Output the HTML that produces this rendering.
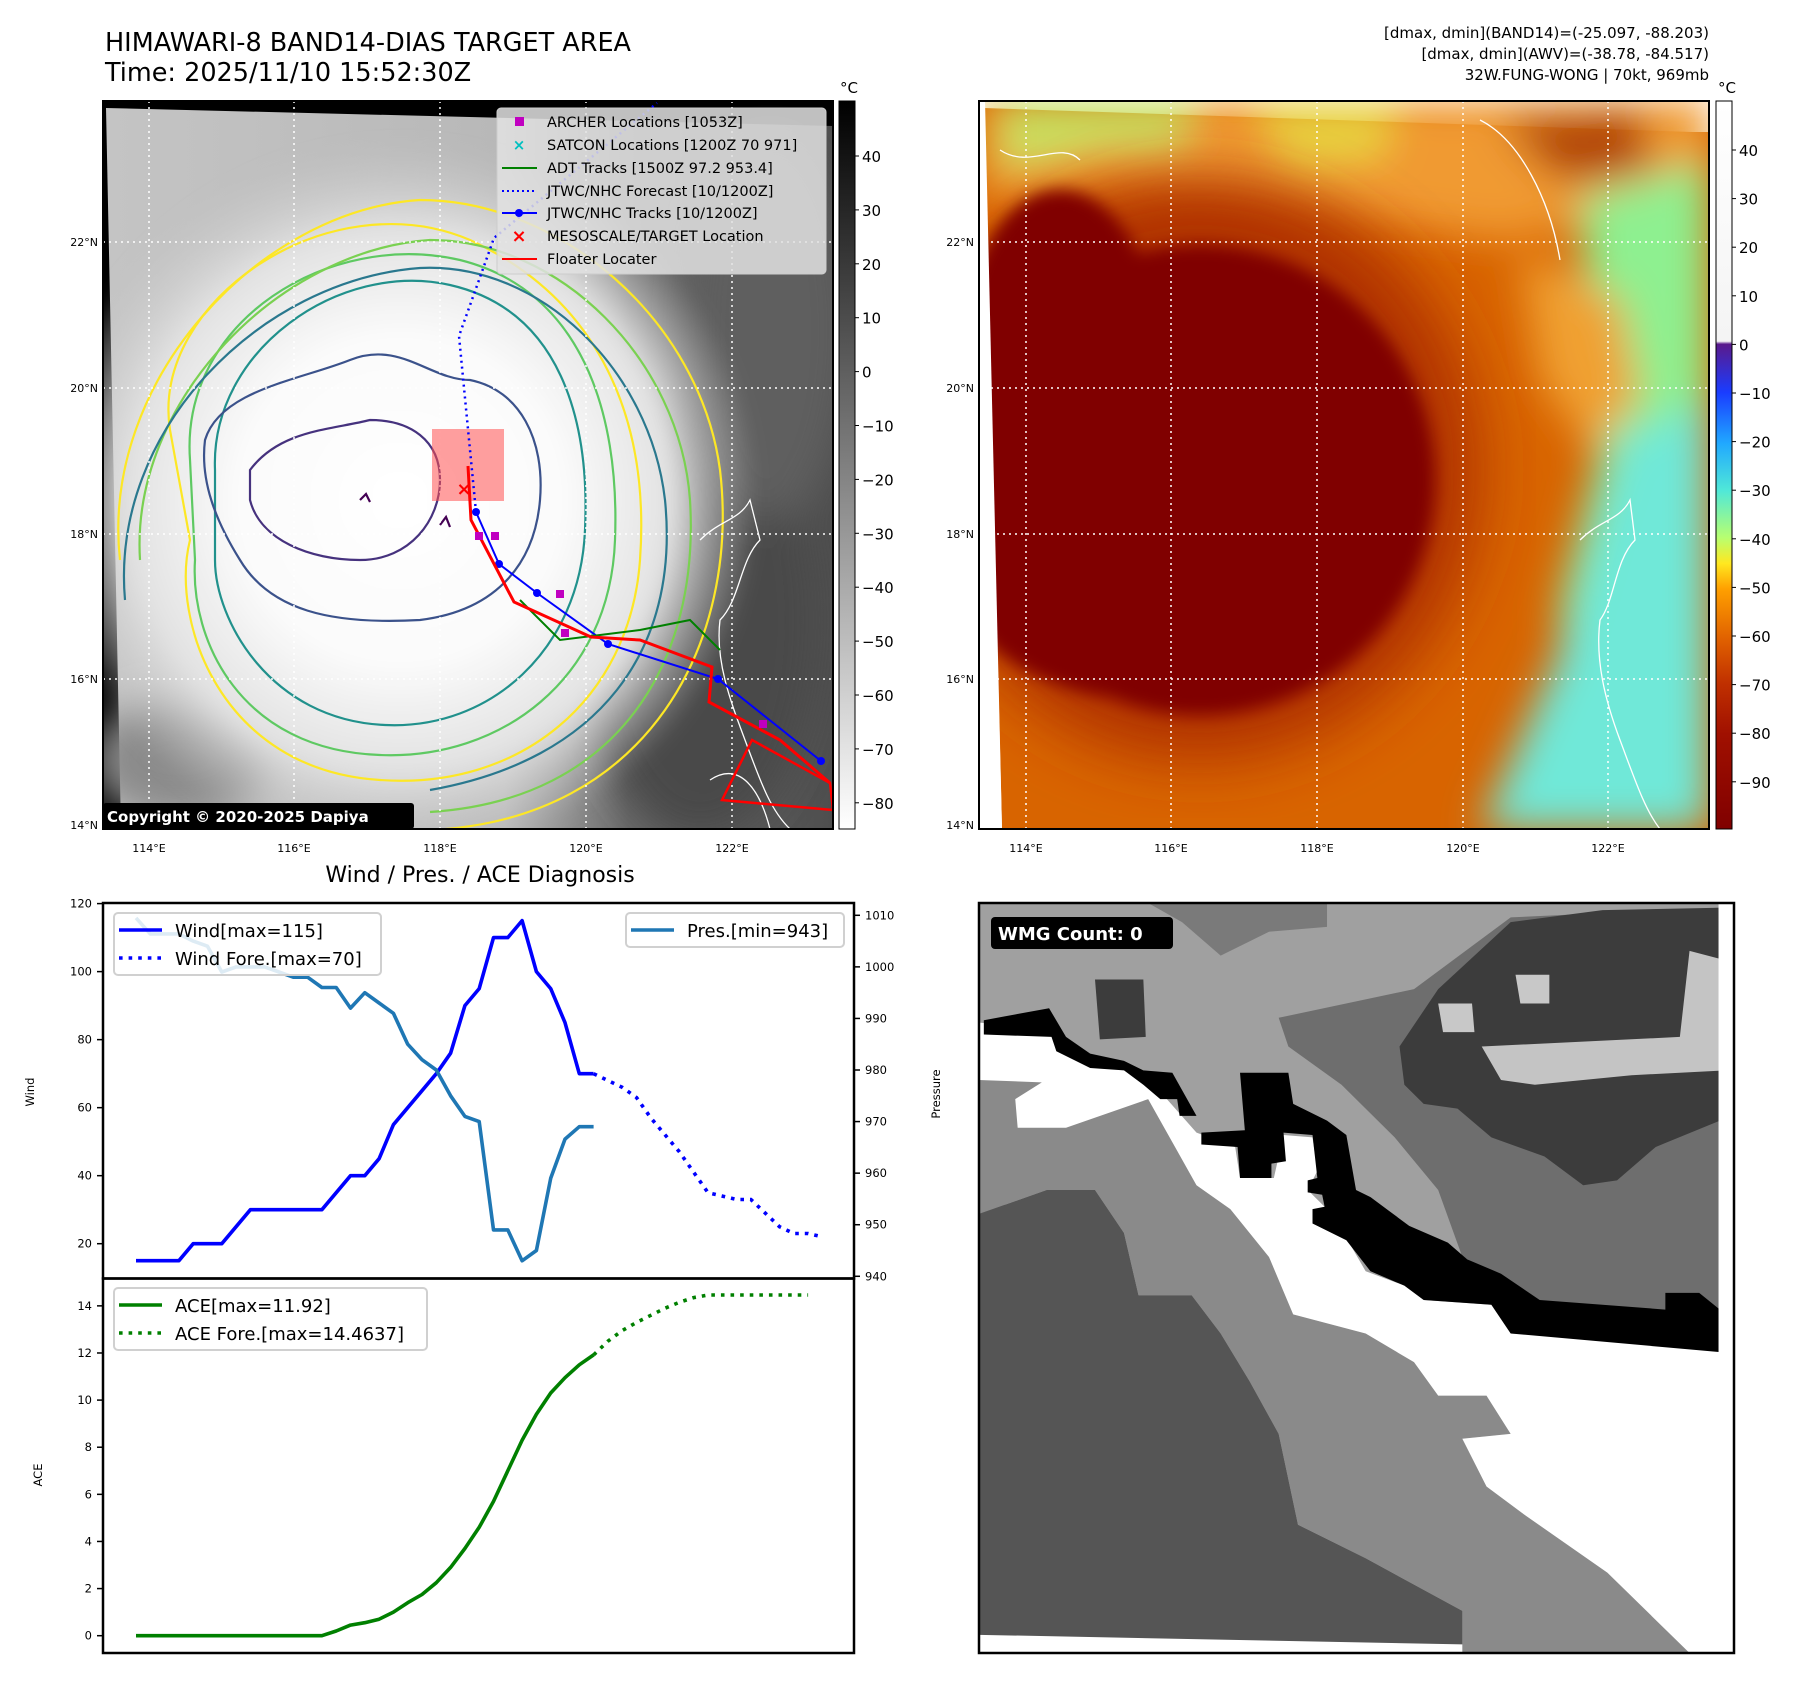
<!DOCTYPE html>
<html><head><meta charset="utf-8"><style>
html,body{margin:0;padding:0;background:#fff;}
svg{display:block;font-family:"DejaVu Sans","Liberation Sans",sans-serif;}
</style></head><body>
<svg id="fig" width="1797" height="1690" viewBox="0 0 1797 1690">
<defs>
  <filter id="blur8"><feGaussianBlur stdDeviation="8"/></filter>
  <filter id="blur20"><feGaussianBlur stdDeviation="20"/></filter>
  <filter id="blur35"><feGaussianBlur stdDeviation="30"/></filter>
  <clipPath id="clipL"><rect x="103" y="101" width="730" height="728"/></clipPath>
  <clipPath id="clipR"><rect x="979" y="101" width="730" height="728"/></clipPath>
  <linearGradient id="gBase" x1="103" y1="0" x2="833" y2="0" gradientUnits="userSpaceOnUse">
    <stop offset="0" stop-color="#c4c4c4"/><stop offset="0.55" stop-color="#b8b8b8"/>
    <stop offset="0.72" stop-color="#6a6a6a"/><stop offset="1" stop-color="#4e4e4e"/>
  </linearGradient>
  <radialGradient id="gWhite" cx="400" cy="500" r="360" gradientUnits="userSpaceOnUse">
    <stop offset="0" stop-color="#ffffff"/><stop offset="0.45" stop-color="#fbfbfb"/>
    <stop offset="0.75" stop-color="#e2e2e2"/><stop offset="1" stop-color="#c8c8c8" stop-opacity="0"/>
  </radialGradient>
  <linearGradient id="cbL" x1="0" y1="0" x2="0" y2="1">
    <stop offset="0" stop-color="#000"/><stop offset="1" stop-color="#fff"/>
  </linearGradient>
  <linearGradient id="cbR" x1="0" y1="0" x2="0" y2="1">
    <stop offset="0" stop-color="#ffffff"/><stop offset="0.33" stop-color="#f4f4f4"/>
    <stop offset="0.334" stop-color="#5a1a8c"/><stop offset="0.40" stop-color="#1a3cff"/>
    <stop offset="0.47" stop-color="#20a8ff"/><stop offset="0.535" stop-color="#50e8d8"/>
    <stop offset="0.60" stop-color="#b8ff70"/><stop offset="0.635" stop-color="#ffe820"/>
    <stop offset="0.67" stop-color="#ffa000"/><stop offset="0.74" stop-color="#e06000"/>
    <stop offset="0.80" stop-color="#c03000"/><stop offset="0.87" stop-color="#a01000"/>
    <stop offset="1" stop-color="#800000"/>
  </linearGradient>
</defs>

<!-- ============ TITLES ============ -->
<text x="105" y="51" font-size="25.5">HIMAWARI-8 BAND14-DIAS TARGET AREA</text>
<text x="105" y="81" font-size="25.5">Time: 2025/11/10 15:52:30Z</text>
<g font-size="15" text-anchor="end">
  <text x="1709" y="38">[dmax, dmin](BAND14)=(-25.097, -88.203)</text>
  <text x="1709" y="59">[dmax, dmin](AWV)=(-38.78, -84.517)</text>
  <text x="1709" y="80">32W.FUNG-WONG | 70kt, 969mb</text>
</g>

<!-- ============ LEFT MAP ============ -->
<g>
  <rect x="103" y="101" width="730" height="728" fill="#000"/>
  <g clip-path="url(#clipL)">
    <polygon points="106,108 833,126 833,829 121,829" fill="url(#gBase)"/>
    <g filter="url(#blur20)">
      <ellipse cx="700" cy="620" rx="120" ry="220" fill="#4a4a4a"/>
      <ellipse cx="770" cy="330" rx="80" ry="190" fill="#5e5e5e"/>
      <ellipse cx="180" cy="760" rx="90" ry="60" fill="#8a8a8a"/>
    </g>
    <ellipse cx="400" cy="480" rx="360" ry="400" fill="url(#gWhite)" filter="url(#blur8)"/>
    <g fill="none" stroke-width="2.2">
      <path d="M170,430 C150,300 330,180 470,240 C600,300 650,420 640,560 C630,700 520,790 380,780 C220,770 170,620 190,540 Z" stroke="#fde725"/>
      <path d="M120,560 C100,380 260,210 420,200 C560,200 700,320 720,470 C740,640 650,820 430,830" stroke="#fde725"/>
      <path d="M190,460 C180,320 330,230 460,260 C580,290 620,410 615,540 C610,680 500,760 380,755 C240,750 190,640 195,560 Z" stroke="#5ec962"/>
      <path d="M140,560 C130,400 280,250 430,240 C560,240 680,360 690,500 C700,660 620,800 430,812" stroke="#7ad151"/>
      <path d="M215,470 C210,350 340,260 450,285 C560,310 590,420 585,530 C580,650 490,730 385,725 C270,720 215,620 215,560 Z" stroke="#21918c"/>
      <path d="M125,600 C110,430 260,280 420,268 C540,262 650,370 665,500 C680,650 600,760 430,790" stroke="#2a788e"/>
      <path d="M205,440 C220,390 300,380 350,360 C400,340 430,380 470,380 C520,390 545,440 540,500 C535,560 500,610 420,620 C330,625 270,610 240,560 C215,520 200,480 205,440 Z" stroke="#3b528b"/>
      <path d="M250,470 C280,430 330,430 370,420 C410,420 440,440 440,480 C440,520 410,560 360,560 C310,560 260,540 250,500 Z" stroke="#46327e"/>
      <path d="M360,500 l6,-6 l4,8 M440,525 l6,-8 l4,10" stroke="#440154"/>
    </g>
    <g stroke="#fff" stroke-width="1.5" stroke-dasharray="2,4">
      <line x1="149" y1="101" x2="149" y2="829"/><line x1="294" y1="101" x2="294" y2="829"/>
      <line x1="440" y1="101" x2="440" y2="829"/><line x1="586" y1="101" x2="586" y2="829"/>
      <line x1="732" y1="101" x2="732" y2="829"/>
      <line x1="103" y1="242" x2="833" y2="242"/><line x1="103" y1="388" x2="833" y2="388"/>
      <line x1="103" y1="534" x2="833" y2="534"/><line x1="103" y1="679" x2="833" y2="679"/>
    </g>
    <g fill="none" stroke="#fff" stroke-width="1.3">
      <path d="M700,540 C720,520 740,520 750,500 L760,540 C740,560 740,600 720,620 C715,660 730,700 745,740 C760,780 770,810 790,829"/>
      <path d="M710,780 C740,760 760,790 770,829"/>
    </g>
    <rect x="432" y="429" width="72" height="72" fill="#ff5050" opacity="0.55"/>
    <polyline points="476,512 459,336 494,238 657,103" fill="none" stroke="#0000ff" stroke-width="2.5" stroke-dasharray="2,4"/>
    <polyline points="476,512 499,564 537,593 608,644 718,679 821,761" fill="none" stroke="#0000ff" stroke-width="2"/>
    <g fill="#0000ff"><circle cx="476" cy="512" r="4"/><circle cx="499" cy="564" r="4"/><circle cx="537" cy="593" r="4"/><circle cx="608" cy="644" r="4"/><circle cx="718" cy="679" r="4"/><circle cx="821" cy="761" r="4"/></g>
    <polyline points="520,600 560,640 600,635 640,630 690,620 720,650" fill="none" stroke="#008000" stroke-width="2"/>
    <polyline points="468,466 471,520 514,602 591,637 640,640 712,667 709,702 780,740 830,783" fill="none" stroke="#ff0000" stroke-width="3"/>
    <polygon points="752,740 830,783 833,810 722,800" fill="none" stroke="#ff0000" stroke-width="2.5"/>
    <g fill="#c000c0"><rect x="475" y="532" width="8" height="8"/><rect x="491" y="532" width="8" height="8"/><rect x="556" y="590" width="8" height="8"/><rect x="561" y="629" width="8" height="8"/><rect x="759" y="720" width="8" height="8"/></g>
    <text x="464" y="495" font-size="18" fill="#ff0000" font-weight="bold" text-anchor="middle">×</text>
  </g>
  <rect x="103" y="101" width="730" height="728" fill="none" stroke="#000" stroke-width="2"/>
  <g>
    <rect x="497" y="108" width="329" height="166" rx="4" fill="#e2e2e2" fill-opacity="0.85" stroke="#ccc"/>
    <g font-size="14.5" fill="#000">
      <rect x="515" y="117" width="9" height="9" fill="#c000c0"/><text x="547" y="127">ARCHER Locations [1053Z]</text>
      <text x="519" y="150" fill="#00c0c0" font-size="15" text-anchor="middle" font-weight="bold">×</text><text x="547" y="150">SATCON Locations [1200Z 70 971]</text>
      <line x1="502" y1="168" x2="537" y2="168" stroke="#008000" stroke-width="2"/><text x="547" y="173">ADT Tracks [1500Z 97.2 953.4]</text>
      <line x1="502" y1="191" x2="537" y2="191" stroke="#0000ff" stroke-width="2" stroke-dasharray="2,3"/><text x="547" y="196">JTWC/NHC Forecast [10/1200Z]</text>
      <line x1="502" y1="213" x2="537" y2="213" stroke="#0000ff" stroke-width="2"/><circle cx="519" cy="213" r="4" fill="#0000ff"/><text x="547" y="218">JTWC/NHC Tracks [10/1200Z]</text>
      <text x="519" y="242" fill="#ff0000" font-size="18" text-anchor="middle" font-weight="bold">×</text><text x="547" y="241">MESOSCALE/TARGET Location</text>
      <line x1="502" y1="259" x2="537" y2="259" stroke="#ff0000" stroke-width="2"/><text x="547" y="264">Floater Locater</text>
    </g>
  </g>
  <rect x="103" y="803" width="311" height="26" rx="3" fill="#000"/>
  <text x="107" y="822" font-size="15" font-weight="bold" fill="#fff">Copyright © 2020-2025 Dapiya</text>
</g>
<g font-size="11">
  <g text-anchor="end"><text x="98" y="246">22°N</text><text x="98" y="392">20°N</text><text x="98" y="538">18°N</text><text x="98" y="683">16°N</text><text x="98" y="829">14°N</text></g>
  <g text-anchor="middle"><text x="149" y="852">114°E</text><text x="294" y="852">116°E</text><text x="440" y="852">118°E</text><text x="586" y="852">120°E</text><text x="732" y="852">122°E</text></g>
</g>
<g>
  <rect x="839" y="101" width="16" height="728" fill="url(#cbL)" stroke="#000" stroke-width="1"/>
  <text x="849" y="93" font-size="15" text-anchor="middle">°C</text>
  <g font-size="15" id="cbLticks"></g>
</g>

<!-- ============ RIGHT MAP ============ -->
<g>
  <rect x="979" y="101" width="730" height="728" fill="#fff"/>
  <g clip-path="url(#clipR)">
    <polygon points="984,108 1692,132 1709,132 1709,829 1002,829" fill="#d86400"/>
    <g filter="url(#blur20)">
      <polygon points="980,100 1709,100 1709,200 1500,240 1300,210 1100,190 980,200" fill="#f09a30"/>
      <polygon points="1000,100 1200,100 1180,150 1100,150 1000,170" fill="#c8e060"/>
      <polygon points="1250,100 1400,100 1380,160 1290,170" fill="#e8d040"/>
      <polygon points="1500,120 1640,110 1650,170 1560,180" fill="#b04000"/>
      <polygon points="1580,200 1709,160 1709,830 1560,830 1560,600 1600,450" fill="#8ef090"/>
      <polygon points="1620,440 1709,400 1709,830 1480,830 1560,650" fill="#70e8d8"/>
      <polygon points="1520,250 1620,300 1640,400 1590,450 1540,380" fill="#f0a030"/>
    </g>
    <g filter="url(#blur35)">
      <ellipse cx="1200" cy="470" rx="280" ry="290" fill="#b03000"/>
    </g>
    <g filter="url(#blur8)">
      <ellipse cx="1200" cy="480" rx="235" ry="235" fill="#800000"/>
      <ellipse cx="1060" cy="360" rx="100" ry="170" fill="#800000"/>
      <ellipse cx="1150" cy="560" rx="200" ry="140" fill="#800000"/>
    </g>
    <polygon points="979,100 985,100 1002,829 979,829" fill="#fff"/>
    <g stroke="#fff" stroke-width="1.5" stroke-dasharray="2,4">
      <line x1="1026" y1="101" x2="1026" y2="829"/><line x1="1171" y1="101" x2="1171" y2="829"/>
      <line x1="1317" y1="101" x2="1317" y2="829"/><line x1="1463" y1="101" x2="1463" y2="829"/>
      <line x1="1608" y1="101" x2="1608" y2="829"/>
      <line x1="979" y1="242" x2="1709" y2="242"/><line x1="979" y1="388" x2="1709" y2="388"/>
      <line x1="979" y1="534" x2="1709" y2="534"/><line x1="979" y1="679" x2="1709" y2="679"/>
    </g>
    <g fill="none" stroke="#fff" stroke-width="1.3">
      <path d="M1580,540 C1600,520 1620,520 1630,500 L1635,540 C1615,560 1615,600 1600,620 C1595,660 1605,700 1620,740 C1635,780 1645,810 1660,829"/>
      <path d="M1000,150 C1030,170 1060,140 1080,160 M1480,120 C1520,140 1550,200 1560,260"/>
    </g>
  </g>
  <rect x="979" y="101" width="730" height="728" fill="none" stroke="#000" stroke-width="2"/>
</g>
<g font-size="11">
  <g text-anchor="end"><text x="974" y="246">22°N</text><text x="974" y="392">20°N</text><text x="974" y="538">18°N</text><text x="974" y="683">16°N</text><text x="974" y="829">14°N</text></g>
  <g text-anchor="middle"><text x="1026" y="852">114°E</text><text x="1171" y="852">116°E</text><text x="1317" y="852">118°E</text><text x="1463" y="852">120°E</text><text x="1608" y="852">122°E</text></g>
</g>
<g>
  <rect x="1716" y="101" width="16" height="728" fill="url(#cbR)" stroke="#000" stroke-width="1"/>
  <text x="1727" y="93" font-size="15" text-anchor="middle">°C</text>
  <g font-size="15" id="cbRticks"></g>
</g>

<!-- ============ WMG PANEL ============ -->
<g>
  <svg x="979" y="903" width="755" height="750" viewBox="0 0 1562 1568" preserveAspectRatio="none">
    <rect x="0" y="0" width="1562" height="1568" fill="#a0a0a0"/>
    <polygon points="620,240 900,180 1100,30 1530,10 1545,860 1160,840 1080,780 1000,740 950,600 860,490 750,380 640,300" fill="#6e6e6e"/>
    <polygon points="350,0 720,0 720,50 600,60 500,110 420,40" fill="#7a7a7a"/>
    <polygon points="870,300 950,180 1100,40 1290,15 1530,10 1545,450 1400,510 1320,580 1250,590 1170,530 1060,490 990,430 920,420 880,380" fill="#3c3c3c"/>
    <polygon points="1040,300 1450,280 1470,100 1545,120 1545,350 1350,360 1150,380 1080,370" fill="#c4c4c4"/>
    <polygon points="950,210 1020,210 1025,270 960,270" fill="#c8c8c8"/>
    <polygon points="1110,150 1180,150 1180,210 1120,210" fill="#c8c8c8"/>
    <polygon points="240,160 340,160 345,280 250,285" fill="#3c3c3c"/>
    <polygon points="0,470 50,470 55,700 0,700" fill="#555"/>
    <polygon points="0,650 140,600 240,600 300,690 330,820 440,820 500,900 560,1000 620,1110 660,1300 800,1370 1000,1480 1000,1568 0,1568" fill="#555"/>
    <polygon points="0,340 130,340 350,410 450,590 520,640 600,740 650,860 800,900 900,960 950,1030 1050,1030 1100,1110 1000,1120 1050,1220 1130,1280 1300,1400 1470,1568 1000,1568 1000,1480 800,1370 660,1300 620,1110 560,1000 500,900 440,820 330,820 300,690 240,600 140,600 0,650" fill="#8a8a8a"/>
    <polygon points="0,250 150,262 230,335 340,350 380,400 450,480 530,510 540,575 610,575 630,485 690,490 700,560 680,600 720,640 690,670 760,700 800,770 880,800 920,830 1060,840 1100,900 1545,915 1545,1568 1470,1568 1300,1400 1130,1280 1050,1220 1000,1120 1100,1110 1050,1030 950,1030 900,960 800,900 650,860 600,740 520,640 450,590 350,410 180,470 80,470 75,410 130,375 0,370" fill="#fff"/>
    <polygon points="10,245 145,220 180,280 230,315 300,330 340,350 400,355 450,445 415,445 410,410 375,410 340,380 300,350 230,345 160,310 150,280 10,275" fill="#000"/>
    <polygon points="540,355 640,355 650,420 720,455 760,485 780,600 810,615 850,645 890,675 970,710 1010,745 1080,775 1160,830 1420,850 1420,815 1490,815 1545,860 1545,940 1100,900 1060,840 920,830 880,800 810,770 760,705 690,670 690,640 715,635 710,610 680,605 680,580 700,575 690,485 630,480 635,540 605,545 605,575 540,575 535,510 460,505 460,480 550,475" fill="#000"/>
    <polygon points="0,1530 1000,1550 1000,1568 0,1568" fill="#fff"/>
    <rect x="1530" y="0" width="32" height="1568" fill="#fff"/>
  </svg>
  <rect x="979" y="903" width="755" height="750" fill="none" stroke="#000" stroke-width="2.5"/>
  <rect x="991" y="917" width="182" height="32" rx="4" fill="#000"/>
  <text x="998" y="940" font-size="18" font-weight="bold" fill="#fff">WMG Count: 0</text>
</g>

<!-- ============ DIAGNOSIS CHART ============ -->
<text x="480" y="882" font-size="22" text-anchor="middle">Wind / Pres. / ACE Diagnosis</text>
<g id="diag"></g>

<script>
// ---- data ----
const windObs = [15,15,15,15,20,20,20,25,30,30,30,30,30,30,35,40,40,45,55,60,65,70,76,90,95,110,110,115,100,95,85,70,70];
const windFore = [70,68,66,63,57,52,47,41,35,34,33,33,29,25,23,23,22];
const presObs = [1009.5,1006.4,1006.4,1006.4,1005,1004,999,1000,1000,1000,999,998,998,996,996,992,995,993,991,985,982,980,975,971,970,949,949,943,945,959,966.6,969,969];
const aceObs = [0,0,0,0,0,0,0,0,0,0,0,0,0,0,0.2,0.45,0.55,0.7,1.0,1.4,1.75,2.25,2.9,3.7,4.6,5.7,7.0,8.3,9.4,10.3,10.95,11.5,11.92];
const aceFore = [11.92,12.5,12.95,13.3,13.6,13.9,14.15,14.35,14.46,14.46,14.46,14.46,14.46,14.46,14.46,14.46];
const windTicks = [20,40,60,80,100,120];
const presTicks = [940,950,960,970,980,990,1000,1010];
const aceTicks = [0,2,4,6,8,10,12,14];
const cbLTicks = [40,30,20,10,0,-10,-20,-30,-40,-50,-60,-70,-80];
const cbRTicks = [40,30,20,10,0,-10,-20,-30,-40,-50,-60,-70,-80,-90];
const foreStart = windObs.length - 1;

// ---- axes ----
const L = 103, R = 854, T = 903, M = 1278.5, B = 1653;
const xIdx = i => 136 + 14.3 * i;
const yWind = v => 903.6 + (120 - v) * 3.401;
const yPres = v => 915.3 + (1010 - v) * 5.157;
const yAce = v => 1635.7 - v * 23.56;
const yCbL = v => 156 + (40 - v) * 5.39;
const yCbR = v => 150 + (40 - v) * 4.86;

const NS = 'http://www.w3.org/2000/svg';
function mk(tag, attrs, parent) {
  const e = document.createElementNS(NS, tag);
  for (const k in attrs) e.setAttribute(k, attrs[k]);
  parent.appendChild(e);
  return e;
}
const g = document.getElementById('diag');

function path(vals, xf, yf, offset) {
  return vals.map((v, i) => (i ? 'L' : 'M') + xf(i + offset).toFixed(1) + ',' + yf(v).toFixed(1)).join(' ');
}

let f1 = mk('rect', {x: L, y: T, width: R - L, height: M - T, fill: 'none', stroke: '#000', 'stroke-width': 2.5}, g);


let f2 = mk('rect', {x: L, y: M, width: R - L, height: B - M, fill: 'none', stroke: '#000', 'stroke-width': 2.5}, g);



windTicks.forEach(v => {
  const y = yWind(v);
  mk('line', {x1: L - 6, x2: L, y1: y, y2: y, stroke: '#000', 'stroke-width': 1.5}, g);
  const t = mk('text', {x: L - 11, y: y + 4, 'font-size': 11.5, 'text-anchor': 'end'}, g);
  t.textContent = v;
  
  
});
presTicks.forEach(v => {
  const y = yPres(v);
  mk('line', {x1: R, x2: R + 6, y1: y, y2: y, stroke: '#000', 'stroke-width': 1.5}, g);
  const t = mk('text', {x: R + 11, y: y + 4, 'font-size': 11.5}, g);
  t.textContent = v;
  
  
});
aceTicks.forEach(v => {
  const y = yAce(v);
  mk('line', {x1: L - 6, x2: L, y1: y, y2: y, stroke: '#000', 'stroke-width': 1.5}, g);
  const t = mk('text', {x: L - 11, y: y + 4, 'font-size': 11.5, 'text-anchor': 'end'}, g);
  t.textContent = v;
  
  
});
const axl = [['Wind', 34, 1092, 'wind-axis-title'], ['ACE', 42, 1475, 'ace-axis-title'], ['Pressure', 940, 1094, 'pressure-axis-title']];
axl.forEach(a => {
  const t = mk('text', {x: a[1], y: a[2], 'font-size': 11.5, 'text-anchor': 'middle', transform: 'rotate(-90 ' + a[1] + ' ' + a[2] + ')'}, g);
  t.textContent = a[0];
  
  
});

const sw = 3.6;
let p;
p = mk('path', {d: path(windObs, xIdx, yWind, 0), fill: 'none', stroke: '#0000ff', 'stroke-width': sw, 'stroke-linejoin': 'round'}, g);


p = mk('path', {d: path(windFore, xIdx, yWind, foreStart), fill: 'none', stroke: '#0000ff', 'stroke-width': sw, 'stroke-dasharray': '3.6,6'}, g);


p = mk('path', {d: path(presObs, xIdx, yPres, 0), fill: 'none', stroke: '#1f77b4', 'stroke-width': sw, 'stroke-linejoin': 'round'}, g);


p = mk('path', {d: path(aceObs, xIdx, yAce, 0), fill: 'none', stroke: '#008000', 'stroke-width': sw, 'stroke-linejoin': 'round'}, g);


p = mk('path', {d: path(aceFore, xIdx, yAce, foreStart), fill: 'none', stroke: '#008000', 'stroke-width': sw, 'stroke-dasharray': '3.6,6'}, g);



function legend(x, y, w, h, entries, name) {
  const lg = mk('g', {}, g);
  
  
  mk('rect', {x: x, y: y, width: w, height: h, rx: 4, fill: '#fff', 'fill-opacity': 0.85, stroke: '#d0d0d0', 'stroke-width': 2}, lg);
  entries.forEach((e, i) => {
    const yy = y + 17 + i * 28;
    const ln = mk('line', {x1: x + 5, x2: x + 48, y1: yy, y2: yy, stroke: e.c, 'stroke-width': sw}, lg);
    if (e.dash) ln.setAttribute('stroke-dasharray', '3.6,6');
    const t = mk('text', {x: x + 61, y: yy + 7, 'font-size': 18}, lg);
    t.textContent = e.t;
  });
}
legend(114, 913, 267, 62, [{c: '#0000ff', t: 'Wind[max=115]'}, {c: '#0000ff', t: 'Wind Fore.[max=70]', dash: 1}], 'wind-legend');
legend(626, 913, 218, 34, [{c: '#1f77b4', t: 'Pres.[min=943]'}], 'pressure-legend');
legend(114, 1288, 313, 62, [{c: '#008000', t: 'ACE[max=11.92]'}, {c: '#008000', t: 'ACE Fore.[max=14.4637]', dash: 1}], 'ace-legend');

const cl = document.getElementById('cbLticks');
cbLTicks.forEach(v => {
  const y = yCbL(v);
  mk('line', {x1: 855, x2: 859, y1: y, y2: y, stroke: '#000'}, cl);
  const t = mk('text', {x: 862, y: y + 6}, cl);
  t.textContent = v < 0 ? '\u2212' + (-v) : v;
  
  
});
const cr = document.getElementById('cbRticks');
cbRTicks.forEach(v => {
  const y = yCbR(v);
  mk('line', {x1: 1732, x2: 1736, y1: y, y2: y, stroke: '#000'}, cr);
  const t = mk('text', {x: 1739, y: y + 6}, cr);
  t.textContent = v < 0 ? '\u2212' + (-v) : v;
  
  
});
</script>
</svg>
</body></html>
